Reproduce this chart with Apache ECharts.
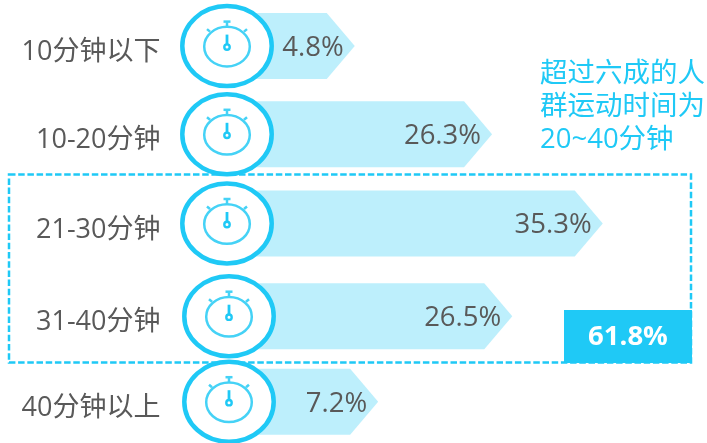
<!DOCTYPE html>
<html>
<head>
<meta charset="utf-8"/>
<title>运动时间</title>
<style>
    html, body {margin:0; padding:0; background:#fff;}
    #chart {width:707px; height:443px;}
</style>
</head>
<body>
<div id="chart"></div>
<script src="https://cdn.jsdelivr.net/npm/echarts@6/dist/echarts.min.js"></script>
<script>
    // 数据
    var categories = ['10分钟以下', '10-20分钟', '21-30分钟', '31-40分钟', '40分钟以上'];
    var shareLabels = ['4.8%', '26.3%', '35.3%', '26.5%', '7.2%'];
    // the arrows in the picture are not proportional to their labels, these are the drawn lengths
    var drawnLengths = [12.0, 24.9, 35.3, 26.8, 14.2];
    var calloutLines = ['超过六成的人', '群运动时间为', '20~40分钟'];
    var totalLabel = '61.8%';

    var blue = '#1fc9f6';
    var paleBlue = '#bdeffc';
    var watchBlue = '#45d2f6';
    var fontName = '"Open Sans", "Noto Sans CJK SC", sans-serif';

    // rows are not quite evenly spaced in the picture, and the last two watches sit a bit to the right
    var rowNudge = [0, 0, 1, 5.5, 2.8];
    var watchNudge = [0, 0, 0, 2, 2];

    function watchIcon(cx, cy) {
        return [
            {type: 'ellipse', shape: {cx: cx, cy: cy, rx: 44.7, ry: 40},
                style: {fill: '#fff', stroke: blue, lineWidth: 4.5}},
            {type: 'ellipse', shape: {cx: cx, cy: cy + 0.5, rx: 22.8, ry: 19.8},
                style: {fill: 'none', stroke: watchBlue, lineWidth: 2.5}},
            {type: 'line', shape: {x1: cx, y1: cy - 24, x2: cx, y2: cy - 19},
                style: {stroke: watchBlue, lineWidth: 2.5}},
            {type: 'line', shape: {x1: cx - 3.5, y1: cy - 24.5, x2: cx + 3.5, y2: cy - 24.5},
                style: {stroke: watchBlue, lineWidth: 2.5}},
            {type: 'line', shape: {x1: cx - 20, y1: cy - 17, x2: cx - 17, y2: cy - 14.5},
                style: {stroke: watchBlue, lineWidth: 2.5}},
            {type: 'line', shape: {x1: cx + 20, y1: cy - 17, x2: cx + 17, y2: cy - 14.5},
                style: {stroke: watchBlue, lineWidth: 2.5}},
            {type: 'line', shape: {x1: cx, y1: cy - 11.5, x2: cx, y2: cy},
                style: {stroke: blue, lineWidth: 2.8}},
            {type: 'circle', shape: {cx: cx, cy: cy + 1, r: 2.7},
                style: {fill: '#fff', stroke: blue, lineWidth: 2.4}}
        ];
    }

    function renderRow(params, api) {
        var idx = api.value(1);
        var start = api.coord([0, idx]);
        var end = api.coord([api.value(0), idx]);
        var cx = start[0], cy = start[1] + rowNudge[idx], tip = end[0];
        var halfH = 33, head = 28;
        var children = [{
            type: 'polygon',
            shape: {points: [[cx, cy - halfH], [tip - head, cy - halfH], [tip, cy], [tip - head, cy + halfH], [cx, cy + halfH]]},
            style: {fill: paleBlue}
        }];
        children = children.concat(watchIcon(cx + watchNudge[idx], cy));
        children.push({
            type: 'text',
            style: {x: tip - 11, y: cy + 2, text: shareLabels[idx], align: 'right', verticalAlign: 'middle',
                fill: '#595959', font: '27.5px ' + fontName}
        });
        children.push({
            type: 'text',
            style: {x: 160.5, y: cy + 6.5, text: categories[idx], align: 'right', verticalAlign: 'middle',
                fill: '#595959', font: '27px ' + fontName}
        });
        return {type: 'group', children: children};
    }

    var rows = drawnLengths.map(function (v, i) { return [v, i]; });

    var calloutGraphics = calloutLines.map(function (line, i) {
        return {
            type: 'text', x: 540, y: 74.5 + i * 33, z: 4,
            style: {text: line, fill: blue, verticalAlign: 'middle', font: '27.5px ' + fontName}
        };
    });

    var option = {
        backgroundColor: '#fff',
        animation: false,
        grid: {left: 227, top: 2, width: 479, height: 443},
        xAxis: {type: 'value', min: 0, max: 45, show: false},
        yAxis: {type: 'category', inverse: true, data: categories, show: false},
        series: [{
            type: 'custom',
            clip: false,
            renderItem: renderRow,
            encode: {x: 0, y: 1},
            data: rows,
            z: 2
        }],
        graphic: calloutGraphics.concat([
            {type: 'rect', z: 3,
                shape: {x: 9, y: 174.5, width: 682, height: 188},
                style: {fill: 'none', stroke: blue, lineWidth: 2.5, lineDash: [6.5, 2.7]}},
            {type: 'rect', z: 3,
                shape: {x: 564, y: 310, width: 128, height: 53},
                style: {fill: blue}},
            {type: 'text', x: 628, y: 337, z: 4,
                style: {text: totalLabel, fill: '#fff', align: 'center', verticalAlign: 'middle', font: 'bold 27.5px ' + fontName}}
        ])
    };

    var myChart = echarts.init(document.getElementById('chart'));
    myChart.setOption(option);
</script>
</body>
</html>
